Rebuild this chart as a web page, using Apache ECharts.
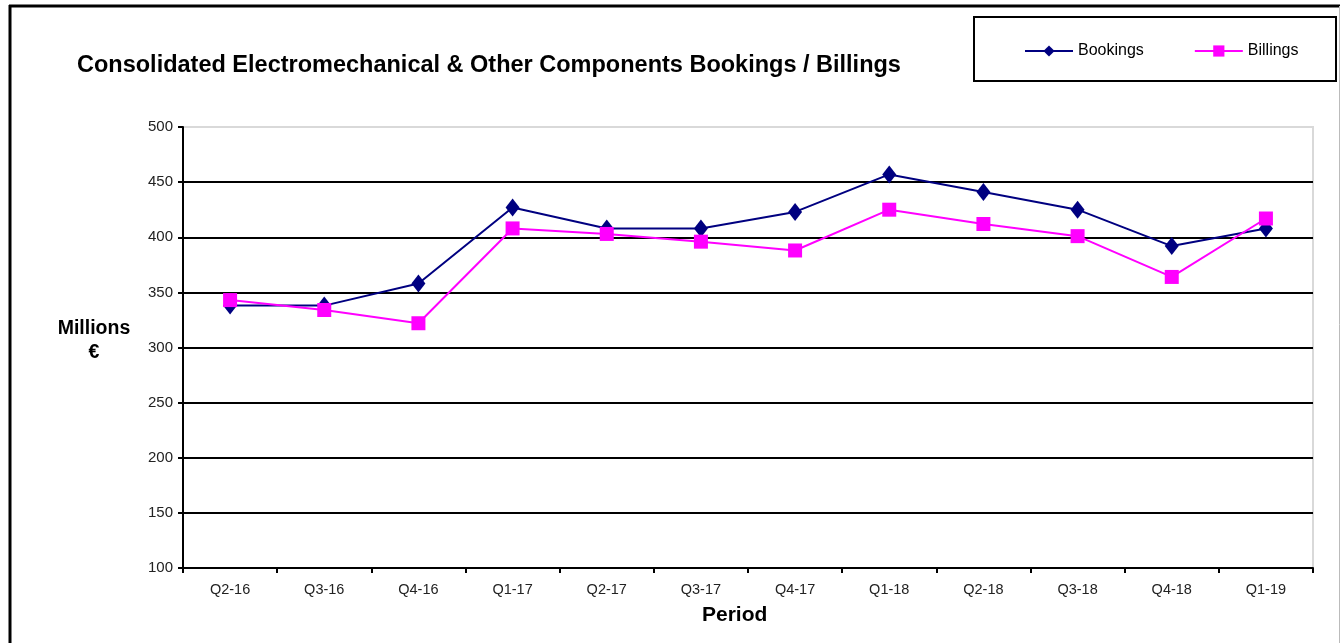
<!DOCTYPE html>
<html>
<head>
<meta charset="utf-8">
<script src="https://cdn.jsdelivr.net/npm/echarts@6/dist/echarts.min.js"></script>
<style>
  html, body { margin: 0; padding: 0; background: #fff; }
  #chart { width: 1341px; height: 643px; }
</style>
</head>
<body>
<div id="chart"></div>
<script>
const periods = ['Q2-16', 'Q3-16', 'Q4-16', 'Q1-17', 'Q2-17', 'Q3-17', 'Q4-17', 'Q1-18', 'Q2-18', 'Q3-18', 'Q4-18', 'Q1-19'];
const bookings = [338, 338, 358, 427, 408, 408, 423, 457, 441, 425, 392, 408];
const billings = [343, 334, 322, 408, 403, 396, 388, 425, 412, 401, 364, 417];

const chart = echarts.init(document.getElementById('chart'));

// split lines: black except top line at 500 (light gray, like plot border)
const splitColors = ['#000', '#000', '#000', '#000', '#000', '#000', '#000', '#000', '#d9d9d9'];

chart.setOption({
  animation: false,
  textStyle: { fontFamily: 'Liberation Sans, Arial, sans-serif' },
  title: {
    text: 'Consolidated Electromechanical & Other Components Bookings / Billings',
    left: 72,
    top: 49,
    textStyle: { fontSize: 23.5, fontWeight: 'bold', color: '#000' }
  },
  legend: {
    data: ['Bookings', 'Billings'],
    left: 1019,
    top: 38,
    itemWidth: 48,
    itemHeight: 14,
    itemGap: 50,
    textStyle: { fontSize: 16, color: '#000' }
  },
  grid: {
    left: 183,
    right: 28,
    top: 127,
    bottom: 75,
    show: true,
    borderColor: '#d9d9d9',
    borderWidth: 2,
    backgroundColor: '#fff'
  },
  xAxis: {
    type: 'category',
    data: periods,
    boundaryGap: true,
    axisLine: { lineStyle: { color: '#000', width: 2 } },
    axisTick: { show: true, length: 5, lineStyle: { color: '#000', width: 2 } },
    axisLabel: { fontSize: 14.5, color: '#222', margin: 14 }
  },
  yAxis: {
    type: 'value',
    min: 100,
    max: 500,
    interval: 50,
    axisLine: { show: true, lineStyle: { color: '#000', width: 2 } },
    axisTick: { show: true, length: 5, lineStyle: { color: '#000', width: 2 } },
    axisLabel: { fontSize: 15, color: '#222', margin: 10 },
    splitLine: { show: true, lineStyle: { color: splitColors, width: 2 } }
  },
  graphic: [
    // outer frame
    { type: 'line', shape: { x1: 9, y1: 6, x2: 1340, y2: 6 }, style: { stroke: '#000', lineWidth: 3 } },
    { type: 'line', shape: { x1: 10, y1: 5, x2: 10, y2: 643 }, style: { stroke: '#000', lineWidth: 3 } },
    { type: 'line', shape: { x1: 1339.5, y1: 6, x2: 1339.5, y2: 643 }, style: { stroke: '#bbb', lineWidth: 1 } },
    // legend box
    { type: 'rect', shape: { x: 974, y: 17, width: 362, height: 64 }, style: { fill: 'none', stroke: '#000', lineWidth: 2 }, z: 0 },
    {
      type: 'text', x: 94, y: 317,
      style: { text: 'Millions\n€', font: 'bold 19.5px Liberation Sans, Arial, sans-serif', fill: '#000', align: 'center', verticalAlign: 'top', lineHeight: 24 }
    },
    {
      type: 'text', left: 702, top: 605,
      style: { text: 'Period', font: 'bold 21px Liberation Sans, Arial, sans-serif', fill: '#000' }
    }
  ],
  series: [
    {
      name: 'Bookings',
      type: 'line',
      data: bookings,
      symbol: 'diamond',
      symbolSize: [14, 18],
      lineStyle: { color: '#000080', width: 2 },
      itemStyle: { color: '#000080' }
    },
    {
      name: 'Billings',
      type: 'line',
      data: billings,
      symbol: 'rect',
      symbolSize: 14,
      lineStyle: { color: '#ff00ff', width: 2 },
      itemStyle: { color: '#ff00ff' }
    }
  ]
});

window.addEventListener('resize', () => chart.resize());
</script>
</body>
</html>
